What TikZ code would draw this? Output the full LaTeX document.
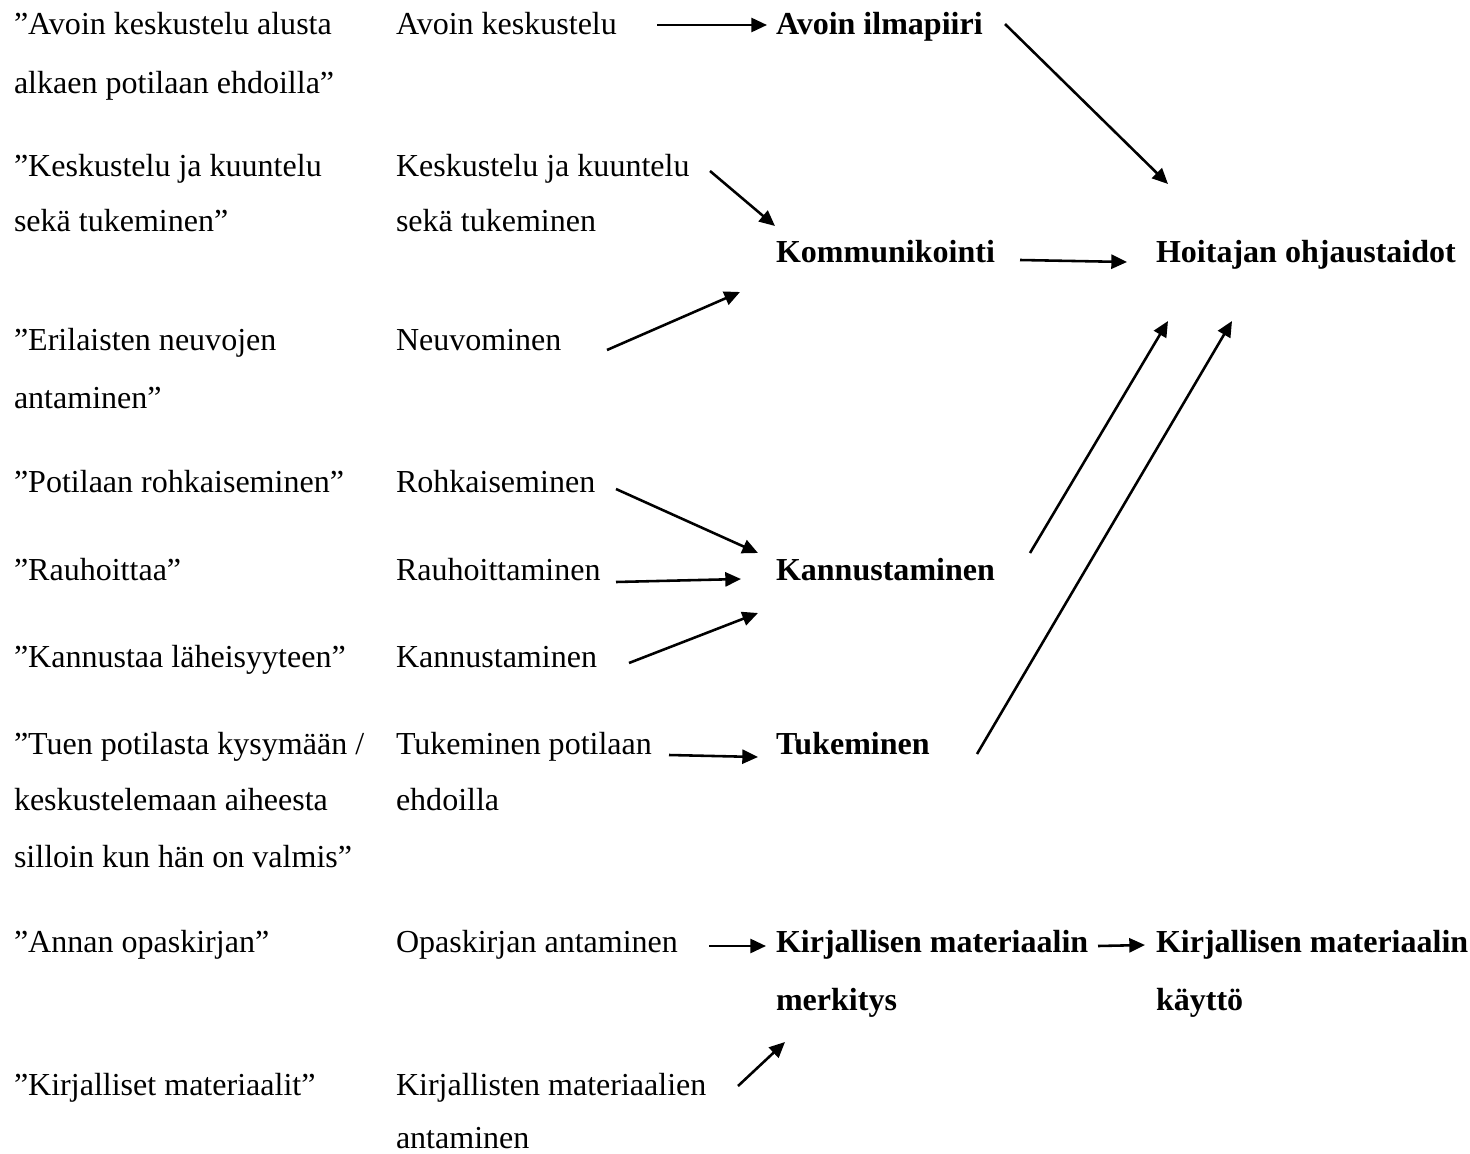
\documentclass[tikz,border=0pt]{standalone}
\usepackage{fontspec}
\setmainfont{Liberation Serif}
\usetikzlibrary{arrows.meta}
\begin{document}
\begin{tikzpicture}[x=0.37pt,y=-0.37pt,
  txt/.style={anchor=base west,inner sep=0pt,outer sep=0pt,font=\fontsize{11.85}{14}\selectfont},
  hd/.style={anchor=base west,inner sep=0pt,outer sep=0pt,font=\fontsize{11.85}{14}\selectfont\bfseries},
  arr/.style={line width=0.95pt,-{Triangle[length=5.8pt,width=5.2pt]}}]
\useasboundingbox (0,0) rectangle (1470,1153);
% column 1
\node[txt] (a1) at (14,35) {”Avoin keskustelu alusta};
\node[txt] (a1b) at (14,94) {alkaen potilaan ehdoilla”};
\node[txt] (a2) at (14,177) {”Keskustelu ja kuuntelu};
\node[txt] (a2b) at (14,231) {sekä tukeminen”};
\node[txt] (a3) at (14,350) {”Erilaisten neuvojen};
\node[txt] (a3b) at (14,408) {antaminen”};
\node[txt] (a4) at (14,492) {”Potilaan rohkaiseminen”};
\node[txt] (a5) at (14,580) {”Rauhoittaa”};
\node[txt] (a6) at (14,667) {”Kannustaa läheisyyteen”};
\node[txt] (a7) at (14,754) {”Tuen potilasta kysymään /};
\node[txt] (a7b) at (14,810) {keskustelemaan aiheesta};
\node[txt] (a7c) at (14,867) {silloin kun hän on valmis”};
\node[txt] (a8) at (14,952) {”Annan opaskirjan”};
\node[txt] (a9) at (14,1095) {”Kirjalliset materiaalit”};
% column 2
\node[txt] (b1) at (396,35) {Avoin keskustelu};
\node[txt] (b2) at (396,177) {Keskustelu ja kuuntelu};
\node[txt] (b2b) at (396,231) {sekä tukeminen};
\node[txt] (b3) at (396,350) {Neuvominen};
\node[txt] (b4) at (396,492) {Rohkaiseminen};
\node[txt] (b5) at (396,580) {Rauhoittaminen};
\node[txt] (b6) at (396,667) {Kannustaminen};
\node[txt] (b7) at (396,754) {Tukeminen potilaan};
\node[txt] (b7b) at (396,810) {ehdoilla};
\node[txt] (b8) at (396,952) {Opaskirjan antaminen};
\node[txt] (b9) at (396,1095) {Kirjallisten materiaalien};
\node[txt] (b9b) at (396,1148) {antaminen};
% column 3
\node[hd] (c1) at (776,35) {Avoin ilmapiiri};
\node[hd] (c2) at (776,263) {Kommunikointi};
\node[hd] (c3) at (776,580) {Kannustaminen};
\node[hd] (c4) at (776,754) {Tukeminen};
\node[hd] (c5) at (776,952) {Kirjallisen materiaalin};
\node[hd] (c5b) at (776,1010) {merkitys};
% column 4
\node[hd] (d1) at (1156,263) {Hoitajan ohjaustaidot};
\node[hd] (d2) at (1156,952) {Kirjallisen materiaalin};
\node[hd] (d2b) at (1156,1010) {käyttö};
% arrow end points
\coordinate (p1s) at (657,25);   \coordinate (p1e) at (767,25);
\coordinate (p2s) at (1005,24);  \coordinate (p2e) at (1168,184);
\coordinate (p3s) at (710,171);  \coordinate (p3e) at (775,226);
\coordinate (p4s) at (607,350);  \coordinate (p4e) at (740,292);
\coordinate (p5s) at (1020,260); \coordinate (p5e) at (1127,262);
\coordinate (p6s) at (1030,553); \coordinate (p6e) at (1168,321);
\coordinate (p7s) at (977,754);  \coordinate (p7e) at (1232,321);
\coordinate (p8s) at (616,489);  \coordinate (p8e) at (758,553);
\coordinate (p9s) at (616,582);  \coordinate (p9e) at (741,579);
\coordinate (p10s) at (629,663); \coordinate (p10e) at (758,613);
\coordinate (p11s) at (669,755); \coordinate (p11e) at (758,757);
\coordinate (p12s) at (709,946); \coordinate (p12e) at (766,946);
\coordinate (p13s) at (1098,946);\coordinate (p13e) at (1145,945);
\coordinate (p14s) at (738,1086);\coordinate (p14e) at (785,1042);
\draw[arr] (p1s) -- (p1e);
\draw[arr] (p2s) -- (p2e);
\draw[arr] (p3s) -- (p3e);
\draw[arr] (p4s) -- (p4e);
\draw[arr] (p5s) -- (p5e);
\draw[arr] (p6s) -- (p6e);
\draw[arr] (p7s) -- (p7e);
\draw[arr] (p8s) -- (p8e);
\draw[arr] (p9s) -- (p9e);
\draw[arr] (p10s) -- (p10e);
\draw[arr] (p11s) -- (p11e);
\draw[arr] (p12s) -- (p12e);
\draw[arr] (p13s) -- (p13e);
\draw[arr] (p14s) -- (p14e);
\end{tikzpicture}
\end{document}
